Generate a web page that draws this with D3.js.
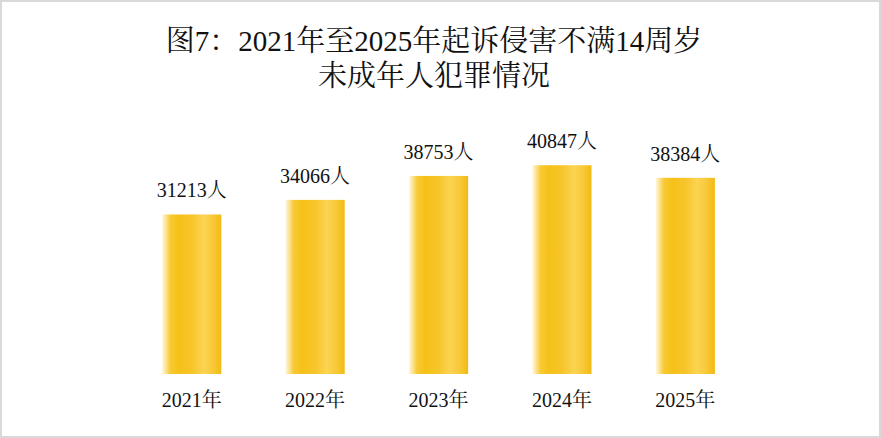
<!DOCTYPE html>
<html><head><meta charset="utf-8">
<script src="https://cdn.jsdelivr.net/npm/d3@7"></script>
<style>
html,body{margin:0;padding:0;background:#fff;}
svg{display:block;}
</style></head>
<body>
<script>
const titleLines = ["图7：2021年至2025年起诉侵害不满14周岁", "未成年人犯罪情况"];
const categories = ["2021年", "2022年", "2023年", "2024年", "2025年"];
const values = [31213, 34066, 38753, 40847, 38384];
const valueUnit = "人";

const W = 881, H = 438;
const svg = d3.select("body").append("svg").attr("width", W).attr("height", H);

svg.append("rect").attr("x", 1).attr("y", 1).attr("width", W - 2).attr("height", H - 2)
  .attr("fill", "#fff").attr("stroke", "#d9d9d9").attr("stroke-width", 2);

const defs = svg.append("defs");
const grad = defs.append("linearGradient").attr("id", "barGrad")
  .attr("x1", "0%").attr("x2", "100%").attr("y1", "0%").attr("y2", "0%");
[["0%", "#fff8e0"], ["5%", "#fde7a4"], ["14%", "#f8c934"], ["28%", "#f5c118"],
 ["50%", "#f7c52a"], ["70%", "#fcd452"], ["85%", "#f8c93a"], ["100%", "#f2bb12"]]
  .forEach(([o, c]) => grad.append("stop").attr("offset", o).attr("stop-color", c));

const x = d3.scaleBand().domain(categories).range([130, 747])
  .paddingInner(0.52).paddingOuter(0.26);
const y = d3.scaleLinear().domain([0, 45000]).range([374, 144]);

const font = "'Liberation Serif','Times New Roman','Noto Serif CJK SC','Noto Sans CJK SC',serif";

svg.append("g").selectAll("rect").data(values).join("rect")
  .attr("x", (d, i) => x(categories[i]))
  .attr("y", d => y(d))
  .attr("width", x.bandwidth())
  .attr("height", d => y(0) - y(d))
  .attr("fill", "url(#barGrad)");

svg.append("g").selectAll("text").data(values).join("text")
  .attr("x", (d, i) => x(categories[i]) + x.bandwidth() / 2)
  .attr("y", d => y(d) - 17)
  .attr("text-anchor", "middle")
  .style("font-family", font).style("font-size", "20px").attr("fill", "#111")
  .text(d => d + valueUnit);

const xAxis = d3.axisBottom(x).tickSize(0).tickPadding(0);
const gx = svg.append("g").attr("transform", "translate(0,392)").call(xAxis);
gx.select(".domain").remove();
gx.selectAll("text").attr("dy", "0").attr("y", 15)
  .style("font-family", font).style("font-size", "20px").attr("fill", "#111");

svg.append("g").selectAll("text").data(titleLines).join("text")
  .attr("x", 434).attr("y", (d, i) => 51 + i * 35)
  .attr("text-anchor", "middle")
  .style("font-family", font).style("font-size", "29px").attr("fill", "#111")
  .text(d => d);
</script>
</body></html>
